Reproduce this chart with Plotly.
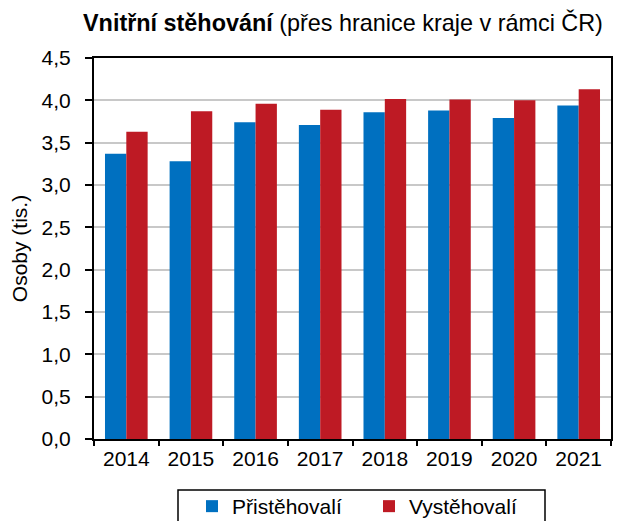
import plotly.graph_objects as go

years = ["2014", "2015", "2016", "2017", "2018", "2019", "2020", "2021"]
pristehovali = [3.37, 3.28, 3.74, 3.71, 3.86, 3.88, 3.79, 3.94]
vystehovali = [3.63, 3.87, 3.96, 3.89, 4.015, 4.01, 4.00, 4.13]
y_ticks = [0, 0.5, 1, 1.5, 2, 2.5, 3, 3.5, 4, 4.5]

FONT = "Liberation Sans, Arial, sans-serif"

# page body has an 8px margin; positions below are in screenshot pixels
OFF = 8
W, H = 621, 521
L, T = 94 - OFF, 58 - OFF
R = W - (611 - OFF)
B = H - (439 - OFF)
PW, PH = W - L - R, H - T - B

def px_x(p):
    return (p - OFF - L) / PW

def px_y(p):
    return (H - B - (p - OFF)) / PH

fig = go.Figure()
fig.add_trace(go.Bar(x=years, y=pristehovali, name="Přistěhovalí",
                     marker=dict(color="rgb(0,112,192)", line=dict(width=0))))
fig.add_trace(go.Bar(x=years, y=vystehovali, name="Vystěhovalí",
                     marker=dict(color="rgb(190,26,36)", line=dict(width=0))))

fig.update_layout(
    width=W, height=H,
    margin=dict(l=L, r=R, t=T, b=B, autoexpand=False),
    paper_bgcolor="white", plot_bgcolor="white",
    separators=", ",
    font=dict(family=FONT, size=21, color="black"),
    barmode="group", bargap=0.34, bargroupgap=0,
    title=dict(
        text="<b>Vnitřní stěhování</b> (přes hranice kraje v rámci ČR)",
        x=(83 - OFF) / W, xanchor="left", xref="container",
        y=1 - (23 - OFF) / H, yanchor="middle", yref="container",
        pad=dict(l=0, r=0, t=0, b=0),
        font=dict(family=FONT, size=23.4, color="black"),
    ),
    showlegend=True,
    legend=dict(
        orientation="h", x=px_x(192), xanchor="left", y=px_y(486), yanchor="top",
        borderwidth=0, bgcolor="rgba(0,0,0,0)",
        font=dict(family=FONT, size=21, color="black"),
        entrywidth=132, entrywidthmode="pixels",
    ),
    shapes=[dict(
        type="rect", xref="paper", yref="paper",
        x0=px_x(178), x1=px_x(545), y0=px_y(490), y1=px_y(560),
        line=dict(color="black", width=1.5), fillcolor="rgba(0,0,0,0)",
        layer="below",
    )],
    xaxis=dict(
        type="category", tickson="boundaries", ticks="outside", ticklen=5,
        tickcolor="black", tickwidth=2,
        showline=True, linecolor="black", linewidth=2, mirror=True,
        showgrid=False, tickfont=dict(family=FONT, size=21),
    ),
    yaxis=dict(
        range=[0, 4.5], tickvals=y_ticks, tickformat=".1f",
        ticks="outside", ticklen=7, tickcolor="black", tickwidth=2,
        ticklabelstandoff=10,
        showline=True, linecolor="black", linewidth=2, mirror=True,
        showgrid=True, gridcolor="rgb(200,200,200)", gridwidth=2,
        zeroline=False,
        title=dict(text="Osoby (tis.)", font=dict(family=FONT, size=21), standoff=9),
        tickfont=dict(family=FONT, size=21),
    ),
)

fig.write_html("out.html")
